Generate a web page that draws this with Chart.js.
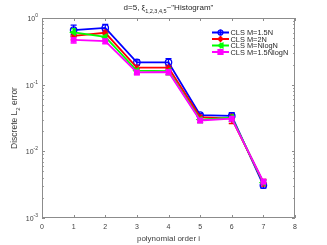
<!DOCTYPE html>
<html>
<head>
<meta charset="utf-8">
<script src="https://cdn.jsdelivr.net/npm/chart.js@4"></script>
<style>
  html, body { margin: 0; padding: 0; background: #fff; }
  #wrap { width: 327px; height: 245px; }
</style>
</head>
<body>
<div id="wrap"><canvas id="myChart" width="327" height="245"></canvas></div>
<script>
// data
const orders = [1, 2, 3, 4, 5, 6, 7];
const xTicks = [0, 1, 2, 3, 4, 5, 6, 7, 8];
const yTickExps = [0, -1, -2, -3];

const labels = ["CLS M=1.5N", "CLS M=2N", "CLS M=NlogN", "CLS M=1.5NlogN"];

const blueVals = [0.66, 0.71, 0.216, 0.216, 0.035, 0.034, 0.0031];
const blueLo = [0.57, 0.62, 0.195, 0.19, 0.032, 0.031, 0.0028];
const blueHi = [0.78, 0.80, 0.235, 0.245, 0.037, 0.038, 0.0036];

const redVals = [0.54, 0.60, 0.18, 0.18, 0.0327, 0.031, 0.0034];
const redLo = [0.47, 0.53, 0.165, 0.165, 0.030, 0.026, 0.0030];
const redHi = [0.60, 0.66, 0.195, 0.195, 0.035, 0.036, 0.0038];

const greenVals = [0.61, 0.52, 0.162, 0.16, 0.030, 0.032, 0.0034];
const greenLo = [0.53, 0.46, 0.145, 0.14, 0.027, 0.028, 0.0031];
const greenHi = [0.69, 0.58, 0.175, 0.175, 0.033, 0.035, 0.0037];

const magVals = [0.47, 0.45, 0.153, 0.155, 0.029, 0.031, 0.0035];
const magLo = [0.42, 0.41, 0.14, 0.14, 0.027, 0.028, 0.0031];
const magHi = [0.52, 0.49, 0.165, 0.17, 0.032, 0.034, 0.0038];

const FONT = "Helvetica, 'Liberation Sans', Arial, sans-serif";

function makeSet(label, vals, lo, hi, color, style, rot, fill, order) {
  return {
    label: label,
    data: orders.map((x, i) => ({ x: x, y: vals[i] })),
    errLo: lo,
    errHi: hi,
    order: order,
    borderColor: color,
    backgroundColor: fill ? color : "rgba(0,0,0,0)",
    pointBorderColor: color,
    pointBackgroundColor: fill ? color : "rgba(0,0,0,0)",
    borderWidth: 1.8,
    pointStyle: style,
    pointRotation: rot,
    pointRadius: 3.2,
    pointBorderWidth: 1.3,
    tension: 0,
  };
}

// magenta plotted last in the original, so it sits on top
const datasets = [
  makeSet(labels[0], blueVals, blueLo, blueHi, "#0000ff", "circle", 0, false, 3),
  makeSet(labels[1], redVals, redLo, redHi, "#ff0000", "star", 0, false, 2),
  makeSet(labels[2], greenVals, greenLo, greenHi, "#00ff00", "triangle", 270, true, 1),
  makeSet(labels[3], magVals, magLo, magHi, "#ff00ff", "rect", 0, true, 0),
];

// error bars, drawn under the lines
const errorBars = {
  id: "errorBars",
  beforeDatasetsDraw(chart) {
    const ctx = chart.ctx;
    const xs = chart.scales.x, ys = chart.scales.y;
    ctx.save();
    chart.data.datasets.forEach((ds) => {
      ctx.strokeStyle = ds.borderColor;
      ctx.lineWidth = 1.3;
      ds.data.forEach((p, i) => {
        const px = xs.getPixelForValue(p.x);
        const top = ys.getPixelForValue(ds.errHi[i]);
        const bot = ys.getPixelForValue(ds.errLo[i]);
        ctx.beginPath();
        ctx.moveTo(px, top); ctx.lineTo(px, bot);
        ctx.moveTo(px - 3, top); ctx.lineTo(px + 3, top);
        ctx.moveTo(px - 3, bot); ctx.lineTo(px + 3, bot);
        ctx.stroke();
      });
    });
    ctx.restore();
  },
};

function legendMarker(ctx, ds, x, y) {
  const r = 2.5;
  ctx.save();
  ctx.strokeStyle = ds.pointBorderColor;
  ctx.fillStyle = ds.pointBackgroundColor;
  ctx.lineWidth = 1.2;
  ctx.beginPath();
  if (ds.pointStyle === "circle") {
    ctx.arc(x, y, r, 0, Math.PI * 2);
  } else if (ds.pointStyle === "rect") {
    ctx.rect(x - r, y - r, 2 * r, 2 * r);
  } else if (ds.pointStyle === "triangle") {
    ctx.moveTo(x - r, y); ctx.lineTo(x + r, y - r); ctx.lineTo(x + r, y + r); ctx.closePath();
  } else {
    ctx.moveTo(x - r, y); ctx.lineTo(x + r, y);
    ctx.moveTo(x, y - r); ctx.lineTo(x, y + r);
    ctx.moveTo(x - r * 0.7, y - r * 0.7); ctx.lineTo(x + r * 0.7, y + r * 0.7);
    ctx.moveTo(x - r * 0.7, y + r * 0.7); ctx.lineTo(x + r * 0.7, y - r * 0.7);
  }
  ctx.fill();
  ctx.stroke();
  ctx.restore();
}

// MATLAB style box, inward ticks, labels, title, legend
const decor = {
  id: "decor",
  afterDraw(chart) {
    const ctx = chart.ctx;
    const a = chart.chartArea;
    const xs = chart.scales.x, ys = chart.scales.y;
    ctx.save();
    ctx.strokeStyle = "#8c8c8c";
    ctx.lineWidth = 1;
    ctx.strokeRect(a.left + 0.5, a.top + 0.5, a.right - a.left - 1, a.bottom - a.top - 1);

    // x ticks
    ctx.beginPath();
    xTicks.forEach((t) => {
      const px = Math.round(xs.getPixelForValue(t)) + 0.5;
      ctx.moveTo(px, a.bottom); ctx.lineTo(px, a.bottom - 3);
      ctx.moveTo(px, a.top); ctx.lineTo(px, a.top + 3);
    });
    // y ticks, major and minor
    yTickExps.forEach((e) => {
      for (let m = 1; m <= 9; m++) {
        const v = m * Math.pow(10, e);
        if (v > 1.0001 || v < 0.001) continue;
        const py = Math.round(ys.getPixelForValue(v)) + 0.5;
        const len = m === 1 ? 3 : 1.8;
        ctx.moveTo(a.left, py); ctx.lineTo(a.left + len, py);
        ctx.moveTo(a.right, py); ctx.lineTo(a.right - len, py);
      }
    });
    ctx.stroke();

    ctx.fillStyle = "#404040";
    ctx.font = "7px " + FONT;
    ctx.textAlign = "center";
    ctx.textBaseline = "top";
    xTicks.forEach((t) => {
      ctx.fillText(String(t), xs.getPixelForValue(t), a.bottom + 6);
    });

    yTickExps.forEach((e) => {
      const py = ys.getPixelForValue(Math.pow(10, e));
      ctx.font = "5px " + FONT;
      const exp = String(e);
      const ew = ctx.measureText(exp).width;
      ctx.textAlign = "left";
      ctx.textBaseline = "alphabetic";
      ctx.fillText(exp, a.left - 4 - ew, py - 1);
      ctx.font = "7px " + FONT;
      ctx.textAlign = "right";
      ctx.fillText("10", a.left - 4 - ew, py + 3);
    });

    // x axis title
    ctx.font = "8px " + FONT;
    ctx.textAlign = "center";
    ctx.textBaseline = "alphabetic";
    ctx.fillText("polynomial order i", (a.left + a.right) / 2, 241);

    // y axis title with subscript
    ctx.save();
    ctx.translate(17, (a.top + a.bottom) / 2);
    ctx.rotate(-Math.PI / 2);
    const p1 = "Discrete L", p3 = " error";
    ctx.font = "6px " + FONT;
    const w2 = ctx.measureText("2").width;
    ctx.font = "8.5px " + FONT;
    const w1 = ctx.measureText(p1).width, w3 = ctx.measureText(p3).width;
    const sx = -(w1 + w2 + w3) / 2;
    ctx.textAlign = "left";
    ctx.fillText(p1, sx, 0);
    ctx.font = "6px " + FONT;
    ctx.fillText("2", sx + w1, 2.5);
    ctx.font = "8.5px " + FONT;
    ctx.fillText(p3, sx + w1 + w2, 0);
    ctx.restore();

    // title with subscript
    ctx.fillStyle = "#262626";
    const t1 = "d=5, \u03be", t2 = "1,2,3,4,5", t3 = "~\"Histogram\"";
    ctx.font = "8px " + FONT;
    const tw1 = ctx.measureText(t1).width, tw3 = ctx.measureText(t3).width;
    ctx.font = "5.5px " + FONT;
    const tw2 = ctx.measureText(t2).width;
    const tx = (a.left + a.right) / 2 - (tw1 + tw2 + tw3) / 2;
    ctx.textAlign = "left";
    ctx.font = "8px " + FONT;
    ctx.fillText(t1, tx, 10);
    ctx.font = "5.5px " + FONT;
    ctx.fillText(t2, tx + tw1, 12.5);
    ctx.font = "8px " + FONT;
    ctx.fillText(t3, tx + tw1 + tw2, 10);

    // legend, no box
    const lx = 212, ly0 = 32.5, step = 6.5;
    chart.data.datasets.forEach((ds, i) => {
      const y = ly0 + i * step;
      ctx.strokeStyle = ds.borderColor;
      ctx.lineWidth = 1.8;
      ctx.beginPath();
      ctx.moveTo(lx, y); ctx.lineTo(lx + 17, y);
      ctx.moveTo(lx + 8.5, y - 3); ctx.lineTo(lx + 8.5, y + 3);
      ctx.stroke();
      legendMarker(ctx, ds, lx + 8.5, y);
      ctx.fillStyle = "#262626";
      ctx.font = "7.4px " + FONT;
      ctx.textAlign = "left";
      ctx.textBaseline = "middle";
      ctx.fillText(ds.label, lx + 18.5, y + 0.5);
      ctx.textBaseline = "alphabetic";
    });
    ctx.restore();
  },
};

const config = {
  type: "line",
  data: { datasets: datasets },
  options: {
    responsive: false,
    animation: false,
    layout: { padding: { left: 42, right: 32, top: 18, bottom: 27 } },
    plugins: {
      legend: { display: false },
      tooltip: { enabled: false },
      title: { display: false },
    },
    scales: {
      x: {
        type: "linear",
        min: 0,
        max: 8,
        display: false,
      },
      y: {
        type: "logarithmic",
        min: 0.001,
        max: 1,
        display: false,
      },
    },
  },
  plugins: [errorBars, decor],
};

const myChart = new Chart(document.getElementById("myChart"), config);
</script>
</body>
</html>
